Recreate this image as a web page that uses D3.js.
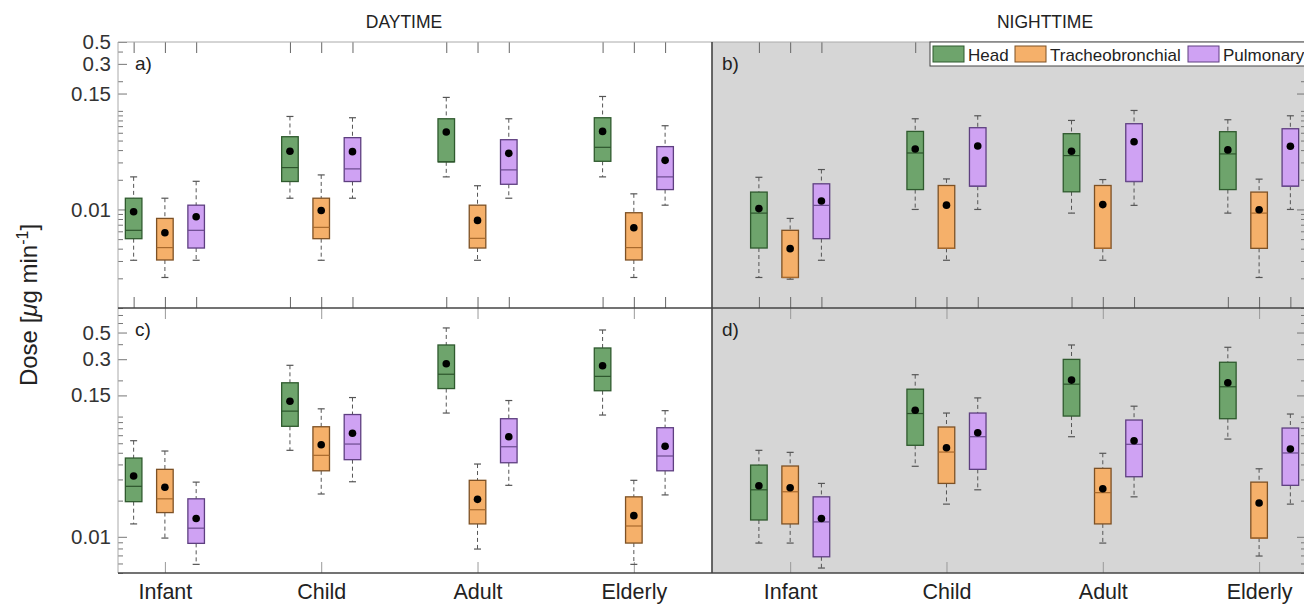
<!DOCTYPE html>
<html>
<head>
<meta charset="utf-8">
<script src="https://cdn.jsdelivr.net/npm/d3@7"></script>
<style>
  body { margin: 0; background: #fff; }
  svg { display: block; font-family: "Liberation Sans", Arial, sans-serif; }
</style>
</head>
<body>
<svg id="chart" width="1304" height="605"></svg>
<script>
// Age groups, deposition regions and labelled dose ticks
const groups = ["Infant", "Child", "Adult", "Elderly"];
const regions = ["Head", "Tracheobronchial", "Pulmonary"];
const yTickValues = [0.01, 0.15, 0.3, 0.5];

// Per age group: [lower whisker, Q1, median, Q3, upper whisker, mean] in µg/min
const aHead  = [[0.00305, 0.00505, 0.00614, 0.0130, 0.0214, 0.00948], [0.0130, 0.0192, 0.0266, 0.0547, 0.0878, 0.0389], [0.0214, 0.0304, 0.0304, 0.0832, 0.137, 0.0611], [0.0214, 0.0308, 0.0427, 0.0852, 0.140, 0.0619]];
const aTrach = [[0.00204, 0.00307, 0.0041, 0.00811, 0.0130, 0.00581], [0.00305, 0.00505, 0.00658, 0.0130, 0.0224, 0.00977], [0.00305, 0.00406, 0.00509, 0.01105, 0.0174, 0.00774], [0.00204, 0.00307, 0.0041, 0.00926, 0.0144, 0.00653]];
const aPulm  = [[0.00305, 0.00406, 0.00614, 0.01105, 0.0193, 0.00844], [0.0130, 0.0192, 0.0258, 0.0535, 0.0852, 0.0386], [0.0130, 0.0180, 0.0252, 0.0510, 0.0832, 0.0371], [0.01105, 0.0159, 0.0214, 0.0434, 0.0707, 0.0315]];

const bHead  = [[0.00204, 0.00406, 0.00918, 0.0150, 0.0212, 0.0102], [0.0100, 0.0159, 0.0374, 0.0619, 0.0832, 0.0411], [0.00918, 0.0151, 0.0352, 0.0587, 0.0800, 0.0389], [0.00918, 0.0159, 0.0366, 0.0615, 0.0813, 0.0402]];
const bTrach = [[0.00196, 0.00204, 0.00204, 0.00614, 0.00811, 0.0040], [0.00305, 0.00403, 0.00403, 0.0175, 0.0204, 0.01105], [0.00305, 0.00403, 0.00403, 0.0175, 0.0201, 0.0112], [0.00204, 0.00403, 0.00918, 0.0150, 0.0203, 0.00993]];
const bPulm  = [[0.00305, 0.00505, 0.0110, 0.0182, 0.0254, 0.0122], [0.0100, 0.0172, 0.0172, 0.0675, 0.0892, 0.0441], [0.0110, 0.0192, 0.0192, 0.0741, 0.101, 0.0487], [0.0100, 0.0172, 0.0172, 0.0659, 0.0892, 0.0437]];

const cHead  = [[0.0128, 0.0196, 0.0263, 0.0452, 0.0630, 0.0320], [0.0524, 0.0830, 0.111, 0.191, 0.267, 0.134], [0.107, 0.171, 0.225, 0.394, 0.546, 0.275], [0.103, 0.164, 0.216, 0.372, 0.525, 0.265]];
const cTrach = [[0.00976, 0.0159, 0.0207, 0.0364, 0.0517, 0.0258], [0.0227, 0.0354, 0.0476, 0.0823, 0.116, 0.0583], [0.00791, 0.0128, 0.0168, 0.0295, 0.0403, 0.0205], [0.0059, 0.00887, 0.0123, 0.0215, 0.0295, 0.0150]];
const cPulm  = [[0.0059, 0.00882, 0.0118, 0.0207, 0.0285, 0.0142], [0.0287, 0.0438, 0.0591, 0.104, 0.144, 0.0726], [0.0268, 0.0413, 0.0561, 0.0960, 0.136, 0.0680], [0.0223, 0.0354, 0.0470, 0.0808, 0.112, 0.0566]];

const dHead  = [[0.00887, 0.0138, 0.0246, 0.0395, 0.0524, 0.0266], [0.0386, 0.0577, 0.106, 0.169, 0.223, 0.113], [0.0680, 0.101, 0.186, 0.299, 0.394, 0.201], [0.0650, 0.0960, 0.177, 0.283, 0.377, 0.191]];
const dTrach = [[0.00887, 0.0128, 0.0237, 0.0388, 0.0504, 0.0256], [0.0187, 0.0278, 0.0507, 0.0819, 0.107, 0.0551], [0.00887, 0.0128, 0.0233, 0.0371, 0.0495, 0.0251], [0.00692, 0.00976, 0.00976, 0.0285, 0.0368, 0.0191]];
const dPulm  = [[0.0055, 0.00682, 0.0133, 0.0215, 0.0278, 0.0142], [0.0246, 0.0364, 0.0680, 0.107, 0.143, 0.0734], [0.0215, 0.0316, 0.0588, 0.0936, 0.122, 0.0630], [0.0187, 0.0268, 0.0498, 0.0803, 0.105, 0.0537]];

// Styling per region
const fills   = ["#6ea46c", "#f5b06a", "#cfa2f3"];
const strokes = ["#2f5a2e", "#7d5125", "#5e3f80"];
const medians = ["#2c542b", "#a8692c", "#6a4a8e"];
const offsets = [-0.2, 0, 0.2];

const svg = d3.select("#chart");

// Scales: two columns (day / night) share the same rows
const xDay = d3.scaleLinear().domain([0.7, 4.5]).range([118, 712]);
const xNight = d3.scaleLinear().domain([0.5, 4.3]).range([712, 1306]);
const yTop = d3.scaleLog().domain([0.001, 0.5]).range([308, 42]);
const yBottom = d3.scaleLog().domain([0.005, 0.8]).range([573, 308]);

const panels = [
  { tag: "a)", x: xDay,   y: yTop,    data: [aHead, aTrach, aPulm], night: false, boxTicks: true },
  { tag: "b)", x: xNight, y: yTop,    data: [bHead, bTrach, bPulm], night: true,  boxTicks: true },
  { tag: "c)", x: xDay,   y: yBottom, data: [cHead, cTrach, cPulm], night: false, boxTicks: false },
  { tag: "d)", x: xNight, y: yBottom, data: [dHead, dTrach, dPulm], night: true,  boxTicks: false }
];

function minorTicks(scale) {
  const [lo, hi] = scale.domain();
  const out = [];
  for (let e = Math.floor(Math.log10(lo)); e <= Math.ceil(Math.log10(hi)); e++) {
    for (let m = 1; m <= 9; m++) {
      const v = +(m * Math.pow(10, e)).toPrecision(3);
      if (v >= lo && v <= hi && !yTickValues.includes(v)) out.push(v);
    }
  }
  return out;
}

panels.forEach(p => {
  const [x0, x1] = p.x.range();
  const [y1, y0] = p.y.range();
  const g = svg.append("g");

  if (p.night) {
    g.append("rect").attr("x", x0).attr("y", y0).attr("width", x1 - x0).attr("height", y1 - y0)
      .attr("fill", "#d6d6d6");
  }

  // category tick marks along top and bottom edges (pointing inward)
  const xTickVals = [];
  groups.forEach((_, i) => {
    if (p.boxTicks) offsets.forEach(o => xTickVals.push(i + 1 + o));
    else xTickVals.push(i + 1);
  });
  const tickColor = p.boxTicks ? "#666" : "#9a9a9a";
  const xb = g.append("g").attr("transform", `translate(0,${y1})`)
    .call(d3.axisBottom(p.x).tickValues(xTickVals).tickSizeInner(-11).tickSizeOuter(0).tickFormat(""));
  const xt = g.append("g").attr("transform", `translate(0,${y0})`)
    .call(d3.axisTop(p.x).tickValues(xTickVals).tickSizeInner(-11).tickSizeOuter(0).tickFormat(""));
  [xb, xt].forEach(a => {
    a.select(".domain").remove();
    a.selectAll("line").attr("stroke", tickColor);
  });

  // log-scale tick marks on the outer vertical edge
  const leftSide = !p.night;
  const axisFn = leftSide ? d3.axisLeft : d3.axisRight;
  const ax = leftSide ? x0 : x1;
  const major = g.append("g").attr("transform", `translate(${ax},0)`)
    .call(axisFn(p.y).tickValues(yTickValues).tickSizeInner(-9).tickSizeOuter(0).tickPadding(7)
      .tickFormat(leftSide ? (d => String(d)) : ""));
  const minor = g.append("g").attr("transform", `translate(${ax},0)`)
    .call(axisFn(p.y).tickValues(minorTicks(p.y)).tickSizeInner(-5).tickSizeOuter(0).tickFormat(""));
  [major, minor].forEach(a => {
    a.select(".domain").remove();
    a.selectAll("line").attr("stroke", "#777");
  });
  major.selectAll("text").attr("font-size", 20.5).attr("fill", "#333");

  // boxes
  const hw = (p.x(1.053) - p.x(1));
  p.data.forEach((rows, s) => {
    rows.forEach((r, i) => {
      const [lo, q1, med, q3, hi, mean] = r;
      const cx = p.x(i + 1 + offsets[s]);
      const bx = g.append("g");
      bx.append("line").attr("x1", cx).attr("x2", cx).attr("y1", p.y(hi)).attr("y2", p.y(q3))
        .attr("stroke", "#555").attr("stroke-dasharray", "4,3");
      bx.append("line").attr("x1", cx).attr("x2", cx).attr("y1", p.y(q1)).attr("y2", p.y(lo))
        .attr("stroke", "#555").attr("stroke-dasharray", "4,3");
      [hi, lo].forEach(v => {
        bx.append("line").attr("x1", cx - 3.5).attr("x2", cx + 3.5).attr("y1", p.y(v)).attr("y2", p.y(v))
          .attr("stroke", "#555").attr("stroke-width", 1.2);
      });
      bx.append("rect").attr("x", cx - hw).attr("width", 2 * hw)
        .attr("y", p.y(q3)).attr("height", p.y(q1) - p.y(q3))
        .attr("fill", fills[s]).attr("stroke", strokes[s]).attr("stroke-width", 1.3);
      bx.append("line").attr("x1", cx - hw).attr("x2", cx + hw).attr("y1", p.y(med)).attr("y2", p.y(med))
        .attr("stroke", medians[s]).attr("stroke-width", 1.2);
      bx.append("circle").attr("cx", cx).attr("cy", p.y(mean)).attr("r", 3.8).attr("fill", "#000");
    });
  });

  // panel letter
  g.append("text").attr("x", x0 + (p.night ? 10 : 17)).attr("y", y0 + 28)
    .attr("font-size", 19).attr("fill", "#222").text(p.tag);
});

// frame lines
const frame = svg.append("g");
frame.append("line").attr("x1", 118).attr("x2", 1306).attr("y1", 42).attr("y2", 42).attr("stroke", "#aaa");
frame.append("line").attr("x1", 118).attr("x2", 118).attr("y1", 42).attr("y2", 573).attr("stroke", "#aaa");
frame.append("line").attr("x1", 118).attr("x2", 1306).attr("y1", 308).attr("y2", 308).attr("stroke", "#444").attr("stroke-width", 1.6);
frame.append("line").attr("x1", 118).attr("x2", 1306).attr("y1", 573).attr("y2", 573).attr("stroke", "#444").attr("stroke-width", 1.6);
frame.append("line").attr("x1", 712).attr("x2", 712).attr("y1", 42).attr("y2", 573).attr("stroke", "#444").attr("stroke-width", 1.6);

// age group labels below the bottom row
[xDay, xNight].forEach(xs => {
  const lab = svg.append("g").attr("transform", "translate(0,573)")
    .call(d3.axisBottom(xs).tickValues([1, 2, 3, 4]).tickSize(0).tickPadding(11)
      .tickFormat(d => groups[d - 1]));
  lab.select(".domain").remove();
  lab.selectAll("text").attr("font-size", 21.5).attr("fill", "#222");
});

// column titles
svg.append("text").attr("x", 404).attr("y", 28).attr("text-anchor", "middle")
  .attr("font-size", 17.5).attr("fill", "#222").text("DAYTIME");
svg.append("text").attr("x", 1045).attr("y", 28).attr("text-anchor", "middle")
  .attr("font-size", 17.5).attr("fill", "#222").text("NIGHTTIME");

// y axis title
const yt = svg.append("text").attr("transform", "translate(37,305) rotate(-90)")
  .attr("text-anchor", "middle").attr("font-size", 24).attr("fill", "#222");
yt.append("tspan").text("Dose [");
yt.append("tspan").attr("font-style", "italic").text("\u03bc");
yt.append("tspan").text("g min");
yt.append("tspan").attr("dy", -9).attr("font-size", 16).text("-1");
yt.append("tspan").attr("dy", 9).text("]");

// legend
const leg = svg.append("g");
leg.append("rect").attr("x", 930).attr("y", 42).attr("width", 380).attr("height", 24)
  .attr("fill", "#fff").attr("stroke", "#444");
const legendX = [933, 1015, 1188];
regions.forEach((name, s) => {
  leg.append("rect").attr("x", legendX[s]).attr("y", 46).attr("width", 31).attr("height", 16)
    .attr("fill", fills[s]).attr("stroke", strokes[s]);
  leg.append("text").attr("x", legendX[s] + 35).attr("y", 60.5).attr("font-size", 17)
    .attr("fill", "#222").text(name);
});
</script>
</body>
</html>
